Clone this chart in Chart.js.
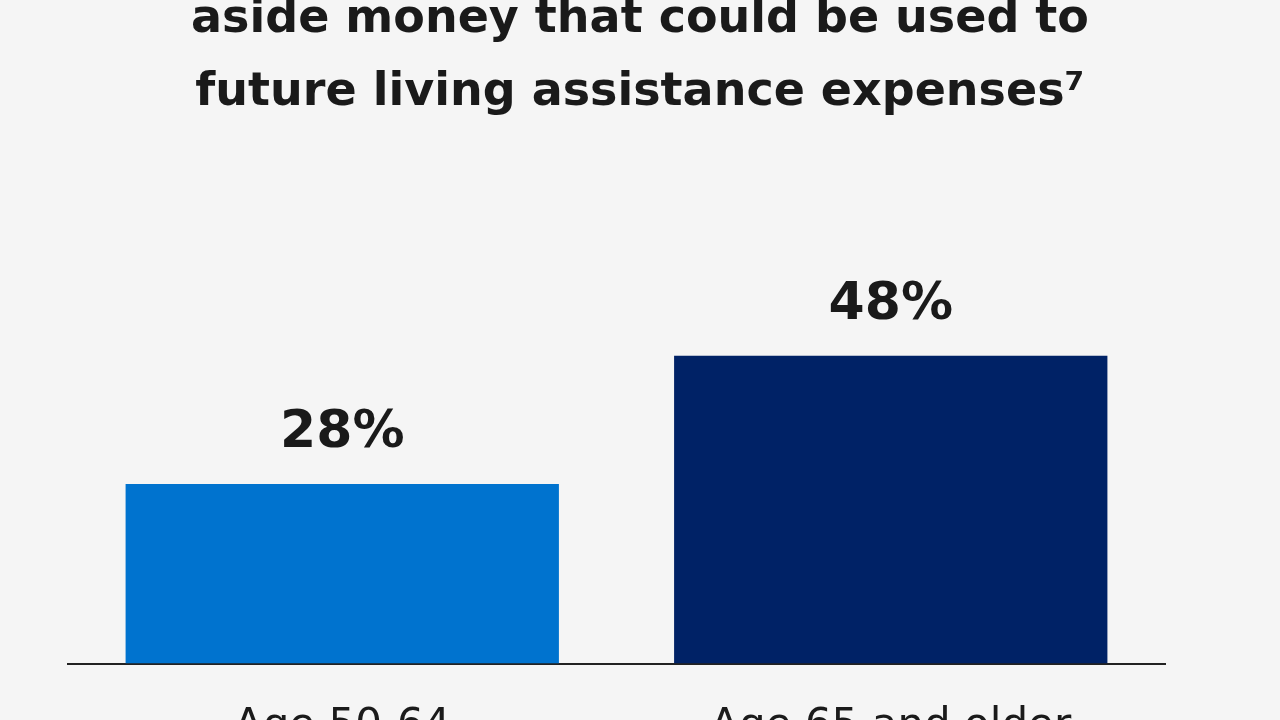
<!DOCTYPE html>
<html>
<head>
<meta charset="utf-8">
<script src="https://cdn.jsdelivr.net/npm/chart.js@4"></script>
<style>
  html, body { margin: 0; padding: 0; background: #f5f5f5; overflow: hidden; width: 1280px; height: 720px; }
  #wrap { position: absolute; left: 0; top: 0; width: 1280px; height: 782px; }
</style>
</head>
<body>
<div id="wrap"><canvas id="grafico"></canvas></div>
<script>
const categorias = ['Age 50-64', 'Age 65 and older']
const valores = [28, 48]
const cores = ['#0073cf', '#002266']
const tituloLinhas = ['aside money that could be used to', 'future living assistance expenses\u2077']

const textoPlugin = {
  id: 'texto',
  afterDraw(chart) {
    const ctx = chart.ctx
    ctx.save()
    ctx.fillStyle = '#1a1a1a'
    ctx.textAlign = 'center'
    ctx.textBaseline = 'middle'
    ctx.font = 'bold 46px "DejaVu Sans"'
    ctx.fillText(tituloLinhas[0], 640, 20)
    ctx.fillText(tituloLinhas[1], 640, 93)
    ctx.font = 'bold 52px "DejaVu Sans"'
    const meta = chart.getDatasetMeta(0)
    meta.data.forEach((bar, i) => {
      ctx.fillText(valores[i] + '%', bar.x, bar.y - 50)
    })
    ctx.restore()
  }
}

new Chart(document.getElementById('grafico'), {
  type: 'bar',
  data: {
    labels: categorias,
    datasets: [{ data: valores, backgroundColor: cores, barPercentage: 0.79, categoryPercentage: 1 }]
  },
  options: {
    responsive: true,
    maintainAspectRatio: false,
    animation: false,
    layout: { padding: { left: 68, right: 115, top: 22, bottom: 0 } },
    plugins: { legend: { display: false }, tooltip: { enabled: false } },
    scales: {
      y: { display: false, min: 0, max: 100 },
      x: {
        grid: { display: false },
        border: { display: true, color: '#222', width: 2 },
        ticks: { color: '#1a1a1a', font: { family: 'DejaVu Sans', size: 42 }, padding: 30 }
      }
    }
  },
  plugins: [textoPlugin]
})
</script>
</body>
</html>
